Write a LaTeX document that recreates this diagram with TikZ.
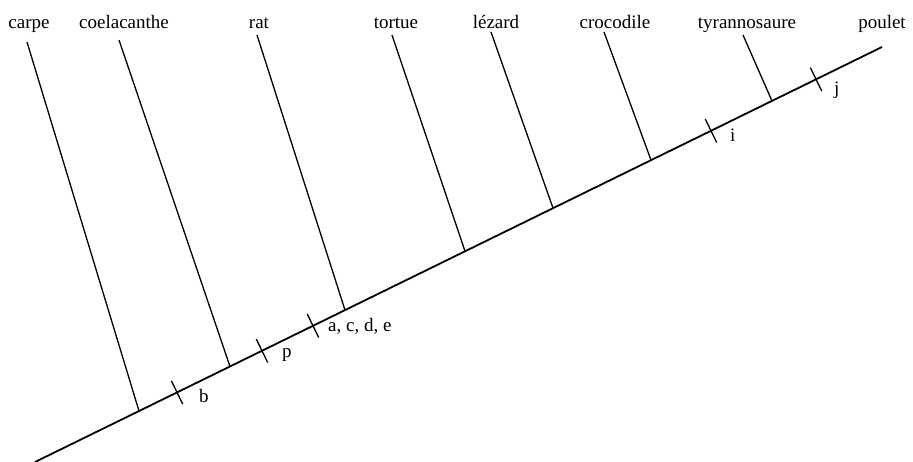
\documentclass[tikz,border=0pt]{standalone}
\usepackage{fontspec}
\setmainfont{Liberation Serif}
\usetikzlibrary{calc}
\tikzset{
  taxon/.style={anchor=base,inner sep=0pt,font=\fontsize{19}{22}\selectfont},
  trait/.style={anchor=base west,inner sep=0pt,font=\fontsize{19}{22}\selectfont},
  trunk/.style={line width=1.8pt},
  branch/.style={line width=1.3pt},
  tickmark/.style={line width=1.3pt}
}

\begin{document}
\begin{tikzpicture}[x=1pt,y=-1pt]
\useasboundingbox (0,0) rectangle (913,462);
% main line of the tree
\coordinate (root) at (35,462);
\coordinate (tip) at (882,47);
\draw[trunk] (root) -- (tip);
% taxa
\foreach \id/\txt/\lx/\tx/\ty/\t in {
  carpe/carpe/29/27/42/0.1228,
  coela/coelacanthe/124/119/40/0.2302,
  rat/rat/259/257/35/0.3660,
  tortue/tortue/396/392/35/0.5077,
  lezard/lézard/496/491/32/0.6116,
  croco/crocodile/615/604/32/0.7273,
  tyran/tyrannosaure/747/743/35/0.8701}{
  \node[taxon] (\id) at (\lx,29) {\txt};
  \coordinate (\id-top) at (\tx,\ty);
  \coordinate (\id-foot) at ($(root)!\t!(tip)$);
  \draw[branch] (\id-top) -- (\id-foot);
}
\node[taxon] (poulet) at (882,29) {poulet};
% characters
\foreach \id/\txt/\t/\lx/\ly in {
  b/b/0.1677/199/402,
  p/p/0.2680/282/357,
  acde/{a, c, d, e}/0.3282/328/332,
  i/i/0.7981/730/142,
  j/j/0.9221/834/95}{
  \coordinate (\id-c) at ($(root)!\t!(tip)$);
  \draw[tickmark] ($(\id-c)+(-5.7,-11.7)$) -- ($(\id-c)+(5.7,11.7)$);
  \node[trait] (\id) at (\lx,\ly) {\txt};
}
\end{tikzpicture}
\end{document}
